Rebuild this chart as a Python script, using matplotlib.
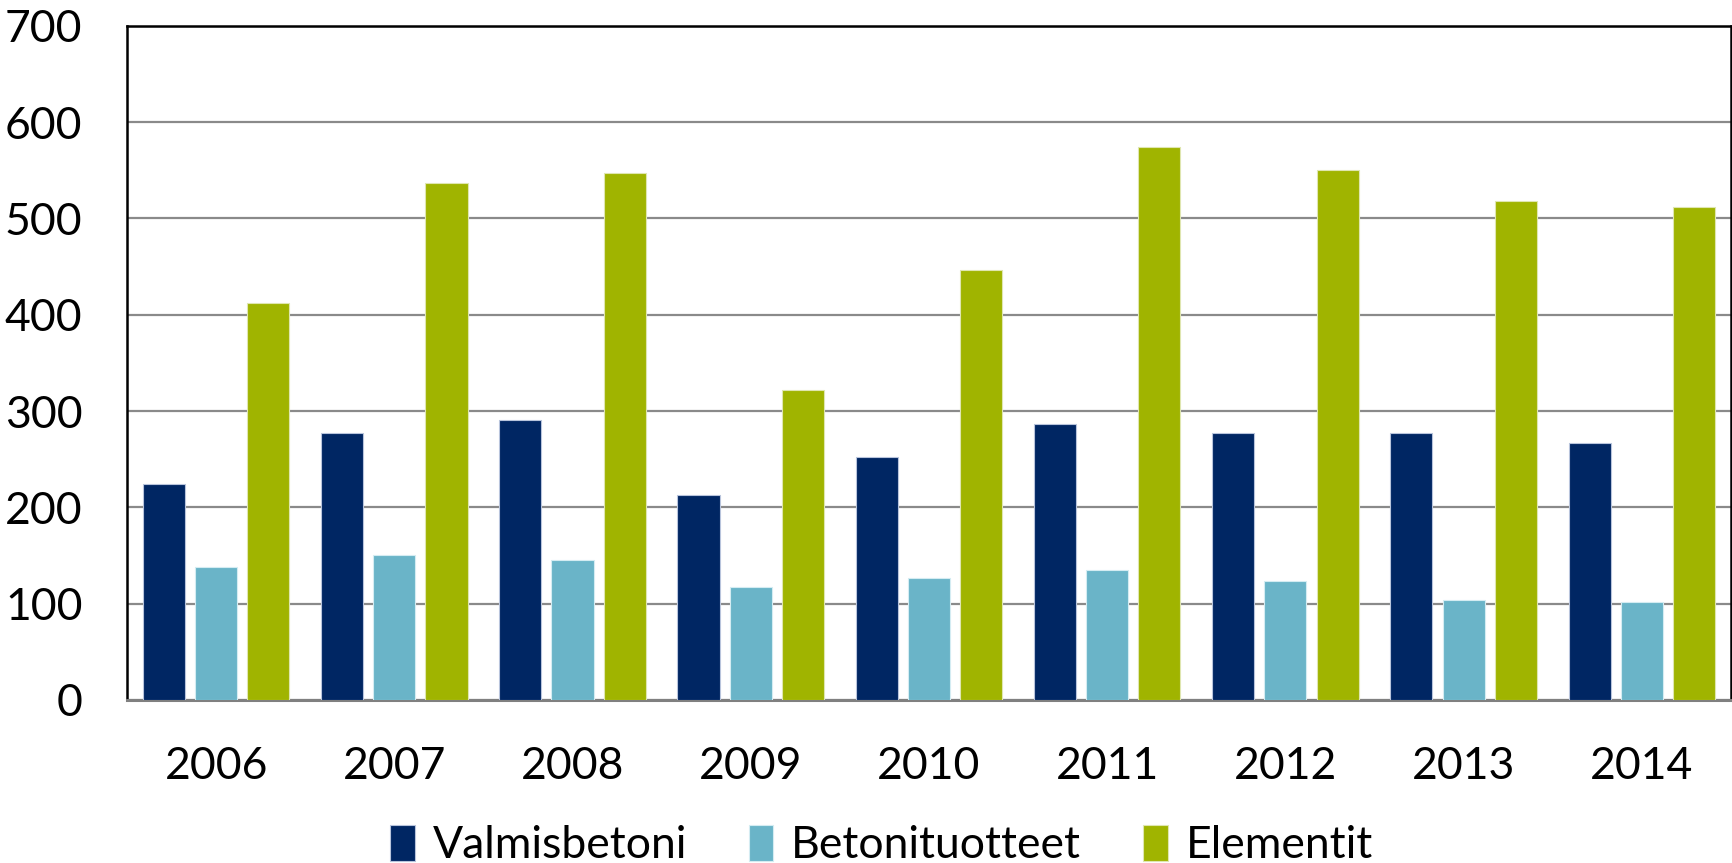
import numpy as np
import matplotlib
matplotlib.use('Agg')
import matplotlib.pyplot as plt

# Datos
vuodet = ['2006', '2007', '2008', '2009', '2010', '2011', '2012', '2013', '2014']
valmisbetoni = [224, 277, 291, 213, 252, 287, 277, 277, 267]
betonituotteet = [138, 151, 145, 117, 127, 135, 124, 104, 102]
elementit = [412, 537, 547, 322, 446, 574, 550, 518, 512]

sarjat = ['Valmisbetoni', 'Betonituotteet', 'Elementit']
varit = ['#002663', '#6AB4C8', '#A0B400']
reunat = ['#b8c4dc', '#d4ecf2', '#dfe6b0']

plt.rcParams['font.family'] = ['Lato', 'DejaVu Sans']

fig = plt.figure(figsize=(17.32, 8.63), dpi=100)
ax = fig.add_axes([0.0733, 0.1889, 0.9261, 0.7813])

x = np.arange(len(vuodet))
ancho = 0.236
paso = 0.293

for k, datos in enumerate([valmisbetoni, betonituotteet, elementit]):
    ax.bar(x + (k - 1) * paso, datos, width=ancho, color=varit[k],
           edgecolor=reunat[k], linewidth=0.8, label=sarjat[k], zorder=3)

ax.set_xlim(-0.5, len(vuodet) - 0.5)
ax.set_ylim(0, 700)
ax.set_yticks(range(0, 701, 100))
ax.set_xticks(x)
ax.set_xticklabels(vuodet)

# Cuadrícula
ax.yaxis.grid(True, color='#8a8a8a', linewidth=1.6, zorder=0)
ax.set_axisbelow(True)

for lado in ['left', 'top', 'right']:
    ax.spines[lado].set_color('black')
    ax.spines[lado].set_linewidth(1.8)
ax.spines['bottom'].set_color('#808080')
ax.spines['bottom'].set_linewidth(2.2)

ax.tick_params(axis='both', length=0, labelsize=32, colors='black')
ax.tick_params(axis='y', pad=32)
ax.tick_params(axis='x', pad=33)

fig.legend(loc='center', bbox_to_anchor=(0.509, 0.02), ncol=3, frameon=False,
           fontsize=32, handlelength=0.55, handleheight=0.85, handletextpad=0.4,
           columnspacing=1.4)

fig.savefig('out.png', dpi=100)
